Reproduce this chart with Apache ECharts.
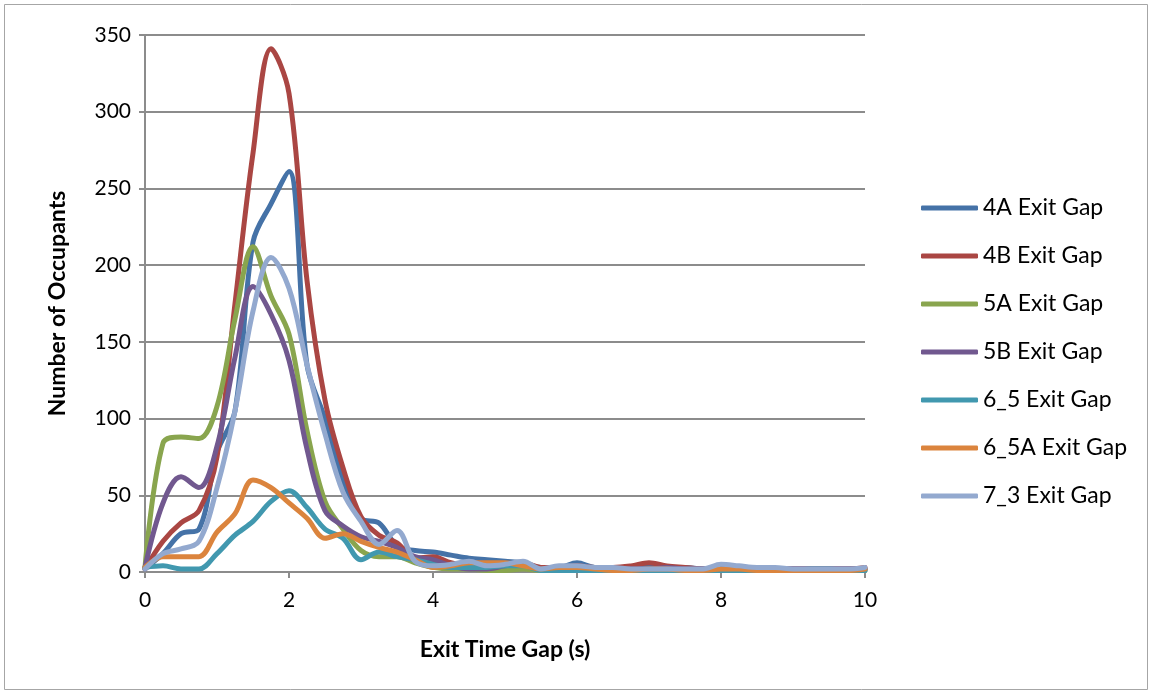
<!DOCTYPE html>
<html>
<head>
<meta charset="utf-8">
<script src="https://cdn.jsdelivr.net/npm/echarts@6/dist/echarts.min.js"></script>
<style>
  html, body { margin: 0; padding: 0; background: #fff; }
  #chart { width: 1152px; height: 694px; }
</style>
</head>
<body>
<div id="chart"></div>
<script>
// Exit time gap bins (s)
const gapTimes = [0, 0.25, 0.5, 0.75, 1, 1.25, 1.5, 1.75, 2, 2.25, 2.5, 2.75, 3, 3.25, 3.5, 3.75,
  4, 4.25, 4.5, 4.75, 5, 5.25, 5.5, 5.75, 6, 6.25, 6.5, 6.75, 7, 7.25, 7.5, 7.75,
  8, 8.25, 8.5, 8.75, 9, 9.25, 9.5, 9.75, 10];

// Number of occupants per gap bin, one list per exit
const gap4A = [2, 12, 25, 28, 78, 105, 215, 240, 261, 135, 100, 60, 35, 32, 17, 14,
  13, 11, 9, 8, 7, 6, 3, 3, 6, 3, 3, 3, 4, 3, 3, 2,
  3, 3, 3, 2, 2, 2, 2, 2, 2];
const gap4B = [2, 20, 32, 40, 75, 175, 273, 341, 312, 190, 112, 68, 36, 24, 19, 9,
  10, 6, 4, 5, 5, 6, 3, 3, 4, 3, 3, 4, 6, 4, 3, 2,
  3, 3, 3, 2, 2, 2, 2, 2, 3];
const gap5A = [3, 84, 88, 87, 108, 165, 212, 180, 155, 92, 46, 28, 14, 10, 10, 6,
  3, 2, 2, 1, 1, 2, 1, 1, 1, 1, 1, 1, 1, 1, 1, 1,
  2, 1, 1, 1, 1, 1, 1, 1, 1];
const gap5B = [3, 45, 62, 55, 82, 140, 186, 168, 138, 80, 40, 30, 23, 20, 16, 10,
  8, 4, 2, 2, 4, 5, 2, 2, 2, 2, 2, 2, 2, 3, 2, 2,
  2, 2, 3, 2, 2, 2, 2, 2, 2];
const gap6_5 = [3, 4, 2, 2, 12, 24, 33, 46, 53, 42, 28, 22, 8, 13, 10, 8,
  5, 3, 3, 3, 4, 4, 1, 1, 1, 1, 1, 1, 1, 1, 1, 1,
  1, 1, 1, 1, 1, 2, 2, 1, 1];
const gap6_5A = [3, 10, 10, 10, 26, 38, 60, 55, 45, 35, 22, 25, 20, 16, 13, 8,
  3, 4, 6, 6, 6, 4, 2, 3, 3, 2, 1, 1, 2, 2, 1, 1,
  2, 2, 1, 1, 1, 1, 1, 1, 2];
const gap7_3 = [2, 12, 15, 20, 55, 105, 170, 205, 185, 135, 90, 52, 33, 18, 27, 7,
  4, 5, 7, 4, 5, 7, 2, 4, 4, 3, 3, 2, 2, 2, 2, 2,
  5, 4, 3, 3, 2, 2, 2, 2, 3];

const seriesNames = ['4A Exit Gap', '4B Exit Gap', '5A Exit Gap', '5B Exit Gap',
  '6_5 Exit Gap', '6_5A Exit Gap', '7_3 Exit Gap'];
const seriesValues = [gap4A, gap4B, gap5A, gap5B, gap6_5, gap6_5A, gap7_3];
const seriesColors = ['#4572A7', '#AA4643', '#89A54E', '#71588F', '#4198AF', '#DB843D', '#93A9CF'];

const xTicks = { min: 0, max: 10, interval: 2 };
const yTicks = { min: 0, max: 350, interval: 50 };

const font = 'Lato, "Open Sans", sans-serif';
const gridGray = '#8c8c8c';

const chart = echarts.init(document.getElementById('chart'), null, { renderer: 'canvas' });

chart.setOption({
  animation: false,
  backgroundColor: '#ffffff',
  textStyle: { fontFamily: font, color: '#000' },
  graphic: [{
    type: 'rect',
    shape: { x: 4.5, y: 4.5, width: 1143, height: 685 },
    style: { fill: 'none', stroke: '#a6a6a6', lineWidth: 1 },
    silent: true,
    z: -1
  }],
  grid: { left: 145, top: 35, width: 720, height: 537, containLabel: false },
  legend: {
    orient: 'vertical',
    left: 916,
    top: 189,
    icon: 'roundRect',
    itemWidth: 57,
    itemHeight: 5,
    itemGap: 20,
    textStyle: { fontSize: 23, lineHeight: 28, color: '#000', fontFamily: font },
    data: seriesNames
  },
  xAxis: {
    type: 'value',
    min: xTicks.min,
    max: xTicks.max,
    interval: xTicks.interval,
    name: 'Exit Time Gap (s)',
    nameLocation: 'middle',
    nameGap: 66,
    nameTextStyle: { fontSize: 23, fontWeight: 'bold', color: '#000', fontFamily: font },
    axisLine: { lineStyle: { color: gridGray, width: 2 } },
    axisTick: { show: true, length: 6, lineStyle: { color: gridGray, width: 2 } },
    axisLabel: { fontSize: 21, color: '#000', margin: 18, fontFamily: font },
    splitLine: { show: false }
  },
  yAxis: {
    type: 'value',
    min: yTicks.min,
    max: yTicks.max,
    interval: yTicks.interval,
    name: 'Number of Occupants',
    nameLocation: 'middle',
    nameGap: 76,
    nameRotate: 90,
    nameTextStyle: { fontSize: 23, fontWeight: 'bold', color: '#000', fontFamily: font },
    axisLine: { show: true, lineStyle: { color: gridGray, width: 2 } },
    axisTick: { show: true, length: 6, lineStyle: { color: gridGray, width: 2 } },
    axisLabel: { fontSize: 21, color: '#000', margin: 14, fontFamily: font },
    splitLine: { show: true, lineStyle: { color: gridGray, width: 2 } }
  },
  series: seriesNames.map((name, i) => ({
    name: name,
    type: 'line',
    smooth: 0.35,
    showSymbol: false,
    symbol: 'none',
    color: seriesColors[i],
    lineStyle: { width: 5, color: seriesColors[i], cap: 'round', join: 'round' },
    data: gapTimes.map((t, k) => [t, seriesValues[i][k]]),
    z: 2 + i
  }))
});
</script>
</body>
</html>
